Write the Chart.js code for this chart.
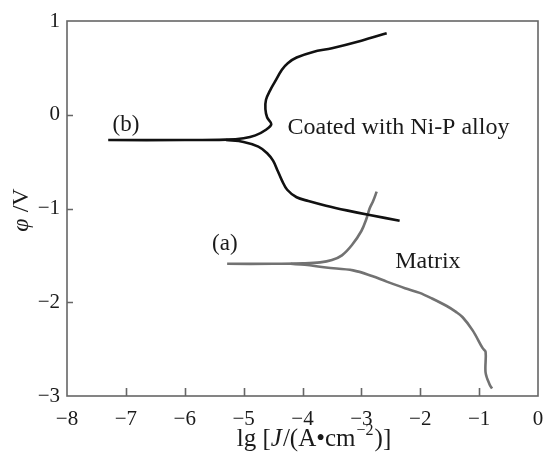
<!DOCTYPE html>
<html>
<head>
<meta charset="utf-8">
<script src="https://cdn.jsdelivr.net/npm/chart.js@4.4.1/dist/chart.umd.min.js"></script>
<style>
  html, body { margin:0; padding:0; background:#fff; }
  #wrap { width:544px; height:454px; }
</style>
</head>
<body>
<div id="wrap"><canvas id="c"></canvas></div>
<script>
// curve (b), coated with Ni-P alloy: flat part + anodic branch, then cathodic branch
const bAnodicX = [-7.30,-6.0,-5.3,-5.0,-4.8,-4.62,-4.53,-4.60,-4.63,-4.62,-4.55,-4.47,-4.35,-4.25,-4.10,-3.82,-3.5,-3.0,-2.57];
const bAnodicY = [-0.27,-0.27,-0.265,-0.25,-0.22,-0.16,-0.10,-0.03,0.06,0.16,0.26,0.35,0.48,0.55,0.61,0.67,0.71,0.79,0.87];
const bCathX = [-5.3,-5.0,-4.75,-4.6,-4.5,-4.42,-4.35,-4.26,-4.10,-3.9,-3.6,-3.25,-2.86,-2.35];
const bCathY = [-0.27,-0.29,-0.34,-0.41,-0.49,-0.60,-0.70,-0.80,-0.88,-0.92,-0.97,-1.02,-1.07,-1.13];

// curve (a), matrix
const aAnodicX = [-5.28,-4.5,-4.0,-3.7,-3.5,-3.33,-3.16,-3.0,-2.92,-2.86,-2.80,-2.74];
const aAnodicY = [-1.59,-1.59,-1.585,-1.575,-1.55,-1.50,-1.39,-1.24,-1.12,-1.0,-0.92,-0.82];
const aCathX = [-4.2,-3.96,-3.6,-3.14,-2.82,-2.57,-2.26,-2.01,-1.80,-1.55,-1.40,-1.28,-1.11,-0.94,-0.89,-0.89,-0.82,-0.78];
const aCathY = [-1.59,-1.60,-1.63,-1.66,-1.72,-1.78,-1.85,-1.90,-1.96,-2.04,-2.10,-2.16,-2.30,-2.49,-2.53,-2.75,-2.88,-2.92];

const xTicks = [-8,-7,-6,-5,-4,-3,-2,-1,0];
const yTicks = [-3,-2,-1,0,1];

const notes = [
  { text:"(b)", x:-7.0, y:-0.11 },
  { text:"(a)", x:-5.32, y:-1.38 },
  { text:"Coated with Ni-P alloy", x:-2.37, y:-0.14 },
  { text:"Matrix", x:-1.87, y:-1.57 }
];

const pts = (xs, ys) => xs.map((x,i)=>({x:x, y:ys[i]}));
const FONT = "'Liberation Serif','Times New Roman',serif";
const BLACK = "#111", GREY = "#727272";

function line(data, col){
  return { data:data, showLine:true, borderColor:col, borderWidth:2.6,
           pointRadius:0, tension:0.35, fill:false };
}

// frame, inward ticks, notes and axis titles
const decor = {
  id:"decor",
  afterDraw(chart){
    const c = chart.ctx, a = chart.chartArea;
    const xs = chart.scales.x, ys = chart.scales.y;
    c.save();
    c.strokeStyle = "#666";
    c.lineWidth = 1.6;
    c.strokeRect(a.left, a.top, a.right-a.left, a.bottom-a.top);
    c.beginPath();
    xTicks.slice(1,-1).forEach(v=>{
      const p = Math.round(xs.getPixelForValue(v))+0.5;
      c.moveTo(p, a.bottom); c.lineTo(p, a.bottom-8);
    });
    yTicks.slice(1,-1).forEach(v=>{
      const p = Math.round(ys.getPixelForValue(v))+0.5;
      c.moveTo(a.left, p); c.lineTo(a.left+6, p);
    });
    c.stroke();

    c.fillStyle = "#1a1a1a";
    c.textBaseline = "middle";
    c.textAlign = "center";
    notes.forEach(n=>{
      c.font = (n.text.length > 3 ? "24px " : "23px ") + FONT;
      c.fillText(n.text, xs.getPixelForValue(n.x), ys.getPixelForValue(n.y));
    });

    // x title: lg [J/(A•cm^-2)]
    const runs = [
      ["lg [", "25px", 0, 0], ["J", "italic 25px", 0, 1], ["/(A\u2022cm", "25px", 0, 1],
      ["\u22122", "16px", -11, 1], [")]", "25px", 0, 0]
    ];
    c.textAlign = "left";
    c.textBaseline = "alphabetic";
    let w = 0;
    runs.forEach(r=>{ c.font = r[1]+" "+FONT; w += c.measureText(r[0]).width + r[3]; });
    let x = 314 - w/2;
    runs.forEach(r=>{
      c.font = r[1]+" "+FONT;
      c.fillText(r[0], x, 446 + r[2]);
      x += c.measureText(r[0]).width + r[3];
    });

    // y title: φ/V
    c.translate(22, 210);
    c.rotate(-Math.PI/2);
    const yr = [["\u03c6", "italic 24px"], [" /V", "24px"]];
    w = 0;
    yr.forEach(r=>{ c.font = r[1]+" "+FONT; w += c.measureText(r[0]).width; });
    x = -w/2;
    c.textBaseline = "middle";
    yr.forEach(r=>{
      c.font = r[1]+" "+FONT;
      c.fillText(r[0], x, 0);
      x += c.measureText(r[0]).width;
    });
    c.restore();
  }
};

new Chart(document.getElementById("c"), {
  type:"scatter",
  data:{
    datasets:[
      line(pts(bAnodicX, bAnodicY), BLACK),
      line(pts(bCathX, bCathY), BLACK),
      line(pts(aAnodicX, aAnodicY), GREY),
      line(pts(aCathX, aCathY), GREY)
    ]
  },
  options:{
    responsive:true,
    maintainAspectRatio:false,
    animation:false,
    layout:{ padding:{ top:21, right:6, left:0, bottom:0 } },
    plugins:{ legend:{ display:false }, tooltip:{ enabled:false } },
    scales:{
      x:{
        type:"linear", min:-8, max:0,
        afterBuildTicks: s => { s.ticks = xTicks.map(v=>({value:v})); },
        afterFit: s => { s.height = 58; s.paddingLeft = 0; s.paddingRight = 0; },
        border:{ display:false },
        grid:{ display:false, drawTicks:false },
        ticks:{ padding:11, color:"#1a1a1a", font:{ family:FONT, size:21 },
                callback: v => String(v).replace("-", "\u2212") }
      },
      y:{
        type:"linear", min:-3, max:1,
        afterBuildTicks: s => { s.ticks = yTicks.map(v=>({value:v})); },
        afterFit: s => { s.width = 67; s.paddingTop = 0; s.paddingBottom = 0; },
        border:{ display:false },
        grid:{ display:false, drawTicks:false },
        ticks:{ padding:7, color:"#1a1a1a", font:{ family:FONT, size:21 },
                callback: v => String(v).replace("-", "\u2212") }
      }
    }
  },
  plugins:[decor]
});
</script>
</body>
</html>
